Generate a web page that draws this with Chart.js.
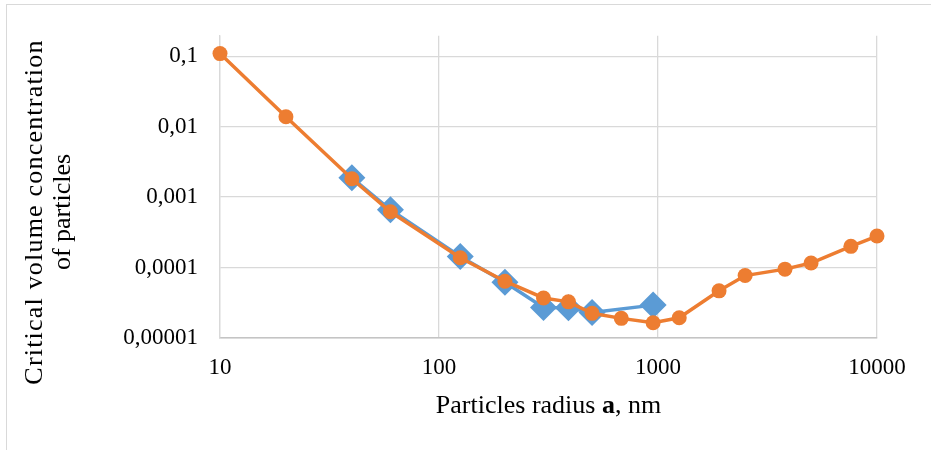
<!DOCTYPE html>
<html>
<head>
<meta charset="utf-8">
<script src="https://cdn.jsdelivr.net/npm/chart.js@4"></script>
<style>
  html, body { margin: 0; padding: 0; background: #fff; }
  #wrap { width: 931px; height: 450px; position: relative; }
</style>
</head>
<body>
<div id="wrap"><canvas id="chart" width="931" height="450"></canvas></div>
<script>
// Data
const orangeX = [10, 20, 40, 60, 125, 200, 300, 390, 500, 680, 950, 1250, 1900, 2500, 3800, 5000, 7600, 10000];
const orangeY = [0.109, 0.0138, 0.00182, 0.00062, 0.000138, 0.000064, 0.000037, 0.0000326, 0.0000224, 0.000019, 0.0000165, 0.0000194, 0.0000467, 0.000077, 0.000095, 0.000116, 0.0002, 0.00028];
const blueX = [40, 60, 125, 200, 300, 390, 500, 950];
const blueY = [0.00188, 0.00066, 0.000144, 0.000062, 0.0000272, 0.0000268, 0.000023, 0.0000293];

const xTickValues = [10, 100, 1000, 10000];
const xTickLabels = ['10', '100', '1000', '10000'];
const yTickValues = [0.00001, 0.0001, 0.001, 0.01, 0.1];
const yTickLabels = ['0,00001', '0,0001', '0,001', '0,01', '0,1'];

const yTitle = ['Critical volume concentration', 'of particles'];
const xTitleParts = ['Particles radius ', 'a', ', nm'];

const serif = "'Liberation Serif', 'Times New Roman', serif";
const orange = '#ed7d31';
const blue = '#5b9bd5';
const gridColor = '#d9d9d9';

const toPoints = (xs, ys) => xs.map((x, i) => ({ x: x, y: ys[i] }));

// frame round the whole chart + axis titles (x title has a bold "a")
const decor = {
    id: 'decor',
    beforeDraw(chart) {
        const c = chart.ctx;
        c.save();
        c.strokeStyle = gridColor;
        c.lineWidth = 1;
        c.strokeRect(6.5, 4.5, 940, 460);
        c.restore();
    },
    afterDraw(chart) {
        const c = chart.ctx;
        const area = chart.chartArea;
        c.save();
        c.fillStyle = '#000';
        c.textBaseline = 'middle';
        const fonts = ['26px ' + serif, 'bold 26px ' + serif, '26px ' + serif];
        const widths = xTitleParts.map((t, i) => { c.font = fonts[i]; return c.measureText(t).width; });
        const total = widths.reduce((a, b) => a + b, 0);
        let x = (area.left + area.right) / 2 - total / 2;
        xTitleParts.forEach((t, i) => {
            c.font = fonts[i];
            c.fillText(t, x, 406);
            x += widths[i];
        });

        // y title, two lines, rotated; first line is a bit spaced out in the original
        c.font = '26px ' + serif;
        c.textAlign = 'center';
        c.translate(35, 212);
        c.rotate(-Math.PI / 2);
        yTitle.forEach((t, i) => {
            c.letterSpacing = i === 0 ? '1.2px' : '0px';
            c.fillText(t, 0, i * 28);
        });
        c.restore();
    }
};

new Chart(document.getElementById('chart'), {
    type: 'line',
    data: {
        datasets: [
            {
                label: 'orange',
                data: toPoints(orangeX, orangeY),
                borderColor: orange,
                backgroundColor: orange,
                borderWidth: 3.5,
                pointStyle: 'circle',
                pointRadius: 7.5,
                pointBorderWidth: 0,
                tension: 0,
                clip: false
            },
            {
                label: 'blue',
                data: toPoints(blueX, blueY),
                borderColor: blue,
                backgroundColor: blue,
                borderWidth: 3.5,
                pointStyle: 'rectRot',
                pointRadius: 13.5,
                pointBorderWidth: 0,
                tension: 0,
                clip: false
            }
        ]
    },
    options: {
        responsive: false,
        animation: false,
        devicePixelRatio: 1,
        layout: { padding: { left: 0, top: 32, right: 54, bottom: 0 } },
        plugins: {
            legend: { display: false },
            tooltip: { enabled: false }
        },
        scales: {
            x: {
                type: 'logarithmic',
                min: 10,
                max: 10000,
                afterBuildTicks: s => { s.ticks = xTickValues.map(v => ({ value: v })); },
                afterFit: s => { s.height = 112; },
                grid: { color: gridColor, lineWidth: 1.3, drawTicks: false },
                border: { color: '#c4c4c4', width: 1.5 },
                ticks: {
                    color: '#000',
                    padding: 16,
                    maxRotation: 0,
                    font: { family: serif, size: 23 },
                    callback: (v, i) => xTickLabels[i]
                },
                title: { display: false }
            },
            y: {
                type: 'logarithmic',
                min: 0.00001,
                max: 0.195,
                afterBuildTicks: s => { s.ticks = yTickValues.map(v => ({ value: v })); },
                afterFit: s => { s.width = 220; },
                grid: { color: gridColor, lineWidth: 1.3, drawTicks: false },
                border: { color: gridColor, width: 1.3 },
                ticks: {
                    color: '#000',
                    padding: 22,
                    font: { family: serif, size: 23 },
                    callback: (v, i) => yTickLabels[i]
                },
                title: { display: false }
            }
        }
    },
    plugins: [decor]
});
</script>
</body>
</html>
